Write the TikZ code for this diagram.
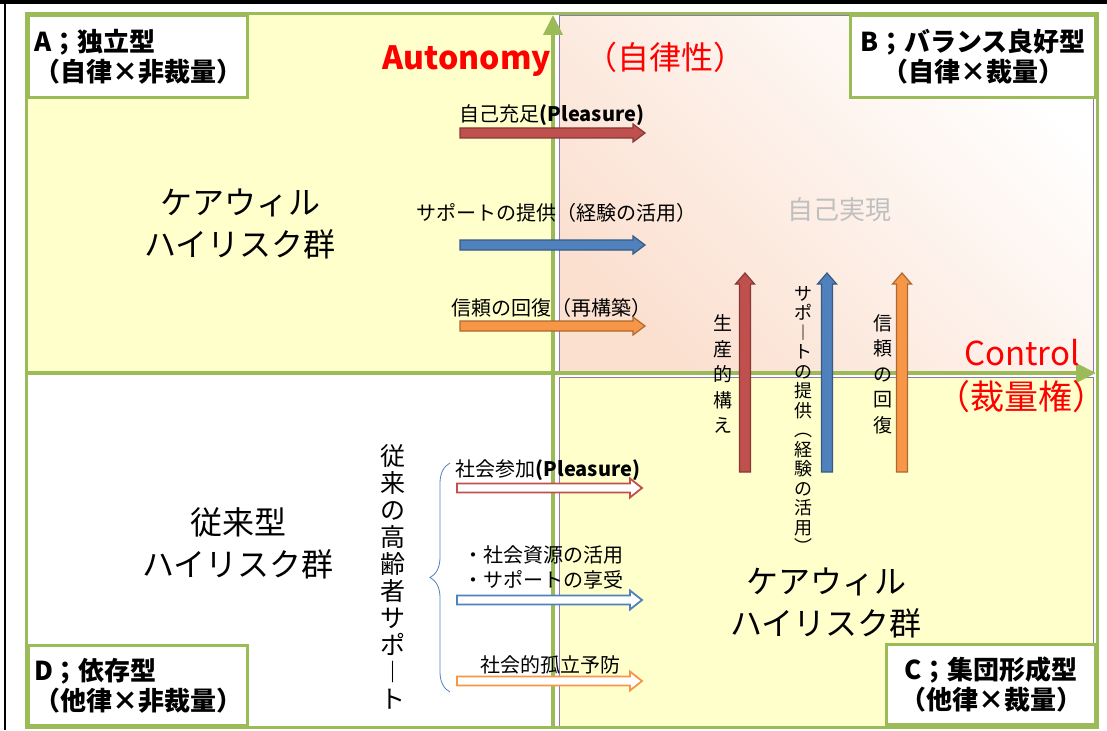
\documentclass[tikz,border=0pt]{standalone}
\usepackage{fontspec}
\setmainfont{Noto Sans CJK JP}
\usetikzlibrary{arrows.meta,decorations.pathreplacing}
\definecolor{quadyellow}{RGB}{255,255,204}
\definecolor{axisgreen}{RGB}{155,187,89}
\definecolor{quadpurple}{RGB}{140,120,180}
\definecolor{peach}{RGB}{251,224,208}
\definecolor{arrowred}{RGB}{192,80,77}
\definecolor{arrowblue}{RGB}{79,129,189}
\definecolor{arroworange}{RGB}{247,150,70}
\definecolor{realgray}{RGB}{191,191,191}
\newcommand\tightlines{\lineskiplimit=-30pt\relax}
\tikzset{
  typebox/.style={draw=axisgreen,line width=3pt,fill=white,inner sep=0pt,
    font=\fontsize{26}{30}\selectfont\bfseries},
  grouplabel/.style={align=center,font=\fontsize{32}{42}\selectfont},
  arrowlabel/.style={font=\fontsize{20}{25}\selectfont,inner sep=0pt},
  vlabel/.style={align=center,inner sep=0pt,
    font=\fontsize{19}{25.5}\selectfont\tightlines},
  axislabel/.style={text=red,inner sep=0pt},
  solidarrow/.style={fill=#1,draw=#1!70!black,line width=1.2pt},
  hollowarrow/.style={fill=white,draw=#1,line width=1.8pt}
}
\begin{document}
\begin{tikzpicture}[x=1pt,y=-1pt]
\useasboundingbox (0,0) rectangle (1107,730);
\fill (0,0) rectangle (1107,4.5);
\draw[line width=2pt] (4.5,0) -- (4.5,730);
\fill[quadyellow] (26,14) rectangle (553,373);
\shade[top color=peach,bottom color=white,shading angle=135] (559,15) rectangle (1093,371);
\draw[quadpurple,line width=.8pt] (559,15) rectangle (1093,371);
\filldraw[fill=quadyellow,draw=quadpurple,line width=.8pt] (559,377) rectangle (1093,727);
\draw[axisgreen,line width=3pt] (26,14) rectangle (1097,727);
\coordinate (ctrlstart) at (26,373);
\coordinate (ctrlend) at (1096,373);
\coordinate (autostart) at (553,727);
\coordinate (autoend) at (553,15);
\draw[axisgreen,line width=4pt,-{Triangle[width=19pt,length=20pt]}] (ctrlstart) -- (ctrlend);
\draw[axisgreen,line width=4pt,-{Triangle[width=19pt,length=20pt]}] (autostart) -- (autoend);

\node[typebox,minimum width=219,minimum height=82,anchor=north west,align=left] (typeA) at (27,14) {A；独立型\\（自律×非裁量）};
\node[typebox,minimum width=245,minimum height=82,anchor=north east,align=center] (typeB) at (1097,14) {B；バランス良好型\\（自律×裁量）};
\node[typebox,minimum width=209,minimum height=80,anchor=south east,align=center] (typeC) at (1097,726) {C；集団形成型\\（他律×裁量）};
\node[typebox,minimum width=219,minimum height=80,anchor=south west,align=left] (typeD) at (27,727) {D；依存型\\（他律×非裁量）};

\node[axislabel,font=\fontsize{32}{36}\selectfont\bfseries,anchor=base] (autonomy) at (467,70) {Autonomy};
\node[axislabel,font=\fontsize{32}{36}\selectfont] (autonomyjp) at (665,57) {（自律性）};
\node[axislabel,font=\fontsize{33}{36}\selectfont,anchor=base] (control) at (1022,365) {Control};
\node[axislabel,font=\fontsize{34}{38}\selectfont,anchor=east] (controljp) at (1107,397) {（裁量権）};

\node[grouplabel] (carewillA) at (240,224) {ケアウィル\\ハイリスク群};
\node[grouplabel] (tradD) at (238,543) {従来型\\ハイリスク群};
\node[grouplabel] (carewillC) at (826,603) {ケアウィル\\ハイリスク群};
\node[text=realgray,font=\fontsize{26}{30}\selectfont] (selfreal) at (839,210) {自己実現};

\foreach \y/\c in {133/arrowred,245/arrowblue,326/arroworange}
  \draw[solidarrow=\c] (460,\y-5) -- ++(173,0) -- ++(0,-4) -- ++(12,9) -- ++(-12,9) -- ++(0,-4) -- ++(-173,0) -- cycle;
\node[arrowlabel] (pleasure) at (552,115) {自己充足\textbf{(Pleasure)}};
\node[arrowlabel] (supportH) at (556,213) {サポートの提供（経験の活用）};
\node[arrowlabel] (trustH) at (551,308) {信頼の回復（再構築）};

\foreach \x/\c in {745/arrowred,827/arrowblue,902/arroworange}
  \draw[solidarrow=\c] (\x-5.5,472) -- ++(0,-188) -- ++(-4,0) -- ++(9.5,-11) -- ++(9.5,11) -- ++(-4,0) -- ++(0,188) -- cycle;
\node[vlabel] (stanceV) at (723,374) {生\\産\\的\\構\\え};
\node[vlabel,font=\fontsize{18}{19.5}\selectfont\tightlines] (supportV) at (803,420) {サ\\ポ\\︱\\ト\\の\\提\\供\\︵\\経\\験\\の\\活\\用\\︶};
\node[vlabel] (trustV) at (883,374) {信\\頼\\の\\回\\復};

\node[vlabel,font=\fontsize{25}{27}\selectfont\tightlines] (tradV) at (393,577) {従\\来\\の\\高\\齢\\者\\サ\\ポ\\︱\\ト};
\draw[arrowblue,line width=.8pt,decorate,decoration={brace,amplitude=20pt}] (450,692) -- (450,463);

\foreach \y/\c in {488/arrowred,600/arrowblue,681/arroworange}
  \draw[hollowarrow=\c] (457,\y-4.5) -- ++(173,0) -- ++(0,-5) -- ++(12,9.5) -- ++(-12,9.5) -- ++(0,-5) -- ++(-173,0) -- cycle;
\node[arrowlabel] (participation) at (548,470) {社会参加\textbf{(Pleasure)}};
\node[arrowlabel,align=left,anchor=west] (resources) at (463,567) {・社会資源の活用\\・サポートの享受};
\node[arrowlabel] (isolation) at (550,665) {社会的孤立予防};
\end{tikzpicture}
\end{document}
